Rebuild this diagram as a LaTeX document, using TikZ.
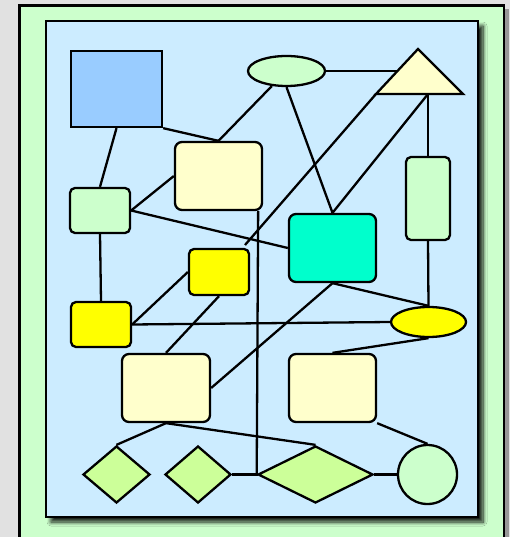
\documentclass[tikz,border=0pt]{standalone}
\usetikzlibrary{shapes.geometric,shadows.blur}
\definecolor{bggray}{RGB}{225,225,225}
\definecolor{outergreen}{RGB}{204,255,204}
\definecolor{innerblue}{RGB}{204,236,255}
\definecolor{sqblue}{RGB}{153,204,255}
\definecolor{cream}{RGB}{255,255,204}
\definecolor{lgreen}{RGB}{204,255,204}
\definecolor{cyanish}{RGB}{0,255,204}
\definecolor{yel}{RGB}{255,255,0}
\definecolor{dgreen}{RGB}{204,255,153}
\begin{document}
\begin{tikzpicture}[x=1pt,y=-1pt,
  lw/.style={line width=2.3pt},
  sharpbox/.style={draw,lw,inner sep=0pt},
  rbox/.style={draw,lw,rounded corners=7pt,inner sep=0pt},
  ell/.style={draw,lw,ellipse,inner sep=0pt},
  dia/.style={draw,lw,diamond,inner sep=0pt,line join=miter},
  edge/.style={draw,lw}]
\useasboundingbox (0,0) rectangle (510,537);
\fill[bggray] (0,0) rectangle (510,537);
\fill[black!60,opacity=0.6] (23,9) rectangle (509,548);
\draw[lw,fill=outergreen] (19.5,5.5) rectangle (504,548);
\draw[lw,fill=innerblue,blur shadow={shadow xshift=5pt,shadow yshift=-5pt,shadow blur radius=4pt,shadow opacity=90,shadow blur steps=8}] (46,21) rectangle (478,517);
% nodes
\node[sharpbox,fill=sqblue,minimum width=91pt,minimum height=76pt] (sq) at (116.5,89) {};
\node[ell,fill=lgreen,minimum width=77pt,minimum height=30pt] (e1) at (286.5,71) {};
\draw[lw,fill=cream,line join=miter] (418,49) coordinate (tA) -- (463,94) coordinate (tR) -- (376,94) coordinate (tL) -- cycle;
\coordinate (tB) at (428,94);
\coordinate (tW) at (397.5,71);
\node[rbox,fill=cream,minimum width=87pt,minimum height=68pt] (c4) at (218.5,176) {};
\node[rbox,rounded corners=5pt,fill=lgreen,minimum width=60pt,minimum height=45pt] (g5) at (100,210.5) {};
\node[rbox,rounded corners=5pt,fill=lgreen,minimum width=44pt,minimum height=83pt] (g6) at (428,198.5) {};
\node[rbox,fill=cyanish,minimum width=87pt,minimum height=68pt] (cy7) at (332.5,248) {};
\node[rbox,rounded corners=5pt,fill=yel,minimum width=60pt,minimum height=46pt] (y8) at (219,272) {};
\node[rbox,rounded corners=5pt,fill=yel,minimum width=60pt,minimum height=45pt] (y9) at (101,324.5) {};
\node[ell,fill=yel,minimum width=75pt,minimum height=30pt] (ye10) at (428.5,322) {};
\node[rbox,fill=cream,minimum width=88pt,minimum height=68pt] (c11) at (166,388) {};
\node[rbox,fill=cream,minimum width=87pt,minimum height=68pt] (c12) at (332.5,388) {};
\node[dia,fill=dgreen,minimum width=67pt,minimum height=57pt] (d13) at (116.5,474.5) {};
\node[dia,fill=dgreen,minimum width=66pt,minimum height=57pt] (d14) at (198,474.5) {};
\node[dia,fill=dgreen,minimum width=115pt,minimum height=57pt] (d15) at (315.5,474.5) {};
\node[draw,lw,circle,fill=lgreen,minimum size=59pt,inner sep=0pt] (ci16) at (427.5,474.5) {};
\coordinate (c4b) at ([xshift=-5pt]c4.south east);
\coordinate (j) at (256.7,474.5);
\coordinate (tEnd) at (245,245);
% edges
\path[edge] (sq.south) -- (g5.north);
\path[edge] (sq.south east) -- (c4.north);
\path[edge] (e1) -- (c4.north);
\path[edge] (e1.east) -- (tW);
\path[edge] (e1.south) -- (cy7.north);
\path[edge] (tL) -- (tEnd);
\path[edge] (tB) -- (cy7.north);
\path[edge] (tB) -- (g6.north);
\path[edge] (g6.south) -- (ye10.north);
\path[edge] (cy7.south) -- (ye10.north);
\path[edge] (cy7.south) -- (c11.east);
\path[edge] (g5.east) -- (c4.west);
\path[edge] (g5.east) -- (cy7.west);
\path[edge] (g5.south) -- (y9.north);
\path[edge] (c4b) -- (j);
\path[edge] (d14.east) -- (j) -- (d15.west);
\path[edge] (y9.east) -- (y8.west);
\path[edge] (y9.east) -- (ye10.west);
\path[edge] (y8.south) -- (c11.north);
\path[edge] (ye10.south) -- (c12.north);
\path[edge] (c11.south) -- (d13.north);
\path[edge] (c11.south) -- (d15.north);
\path[edge] (c12.south east) -- (ci16.north);
\path[edge] (d15.east) -- (ci16.west);
\end{tikzpicture}
\end{document}
